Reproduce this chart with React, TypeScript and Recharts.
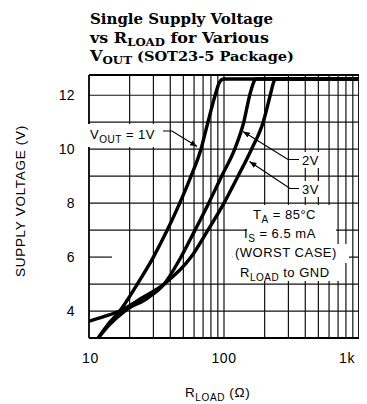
import React from 'react';
import { LineChart, Line, XAxis, YAxis, ReferenceLine } from 'recharts';

// ---- data ----
const X_TICKS = [10, 100, 1000];
const X_TICK_LABELS = ['10', '100', '1k'];
const Y_TICKS = [4, 6, 8, 10, 12];
const X_GRID = [20, 30, 40, 50, 60, 70, 80, 90, 100, 200, 300, 400, 500, 600, 700, 800, 900];
const Y_GRID = [4, 5, 7, 8, 9, 10, 11, 12];
const Y_GRID_6_SEGMENTS = [[10, 14.8], [116, 1000]];
const X_MIN = 10;
const X_MAX = 1000;
const Y_MIN = 3;
const Y_MAX = 12.75;

const R_1V = [11.7, 13.8, 16.9, 22.8, 30, 38, 47, 57, 67.5, 76, 86, 92, 96, 100, 1000];
const V_1V = [3.0, 3.5, 4.0, 5.0, 6.0, 7.0, 8.0, 9.0, 10.0, 11.0, 12.0, 12.45, 12.58, 12.6, 12.6];

const R_2V = [11.7, 14.2, 18.4, 27.5, 36, 48, 61, 77, 96, 120, 140, 155, 165, 171, 1000];
const V_2V = [3.0, 3.5, 4.0, 4.5, 5.0, 6.0, 7.0, 8.0, 9.0, 10.0, 11.0, 12.0, 12.45, 12.6, 12.6];

const R_3V = [10, 13, 16.9, 25, 36, 57, 76, 100, 127, 160, 195, 220, 232, 240, 1000];
const V_3V = [3.62, 3.8, 4.0, 4.5, 5.0, 6.0, 7.0, 8.0, 9.0, 10.0, 11.0, 12.0, 12.45, 12.6, 12.6];

const toPts = (xs: number[], ys: number[]) => xs.map((x, i) => ({ x, y: ys[i] }));
const S1 = toPts(R_1V, V_1V);
const S2 = toPts(R_2V, V_2V);
const S3 = toPts(R_3V, V_3V);

const SANS = '"Liberation Sans", Arial, sans-serif';
const SERIF = '"DejaVu Serif", serif';
const GRID = '#111';

const XTick = (props: any) => {
  const { x, y, payload } = props;
  const idx = X_TICKS.indexOf(payload.value);
  const shift = payload.value === 1000 ? -4 : payload.value === 10 ? 1.5 : 0;
  return (
    <text x={x + shift} y={y} dy="0.71em" textAnchor="middle" fontFamily={SANS} fontSize={14} letterSpacing={0.6} fill="#000">
      {X_TICK_LABELS[idx]}
    </text>
  );
};

export default function App() {
  return (
    <div style={{ position: 'relative', width: 359, height: 396 }}>
      <LineChart width={359} height={396} margin={{ top: 67, right: 8, bottom: 0, left: 0 }}>
        <XAxis
          type="number"
          dataKey="x"
          scale="log"
          domain={[X_MIN, X_MAX]}
          ticks={X_TICKS}
          allowDataOverflow
          tick={XTick}
          tickSize={0}
          tickMargin={15}
          tickLine={false}
          axisLine={{ stroke: '#000', strokeWidth: 1.8 }}
          height={66}
        />
        <YAxis
          type="number"
          domain={[Y_MIN, Y_MAX]}
          ticks={Y_TICKS}
          allowDataOverflow
          tick={{ fontFamily: SANS, fontSize: 14, fill: '#000', letterSpacing: 0.4 }}
          tickSize={0}
          tickMargin={14}
          tickLine={false}
          axisLine={{ stroke: '#000', strokeWidth: 1.8 }}
          width={81}
        />
        {X_GRID.map((v) => (
          <ReferenceLine key={'gx' + v} x={v} stroke={GRID} strokeWidth={1.2} />
        ))}
        {Y_GRID.map((v) => (
          <ReferenceLine key={'gy' + v} y={v} stroke={GRID} strokeWidth={1.2} />
        ))}
        {Y_GRID_6_SEGMENTS.map((s, i) => (
          <ReferenceLine key={'g6' + i} segment={[{ x: s[0], y: 6 }, { x: s[1], y: 6 }]} stroke={GRID} strokeWidth={1.2} />
        ))}
        <ReferenceLine y={Y_MAX} stroke="#000" strokeWidth={1.8} />
        <ReferenceLine x={X_MAX} stroke="#000" strokeWidth={1.8} />
        <Line data={S1} dataKey="y" type="monotone" stroke="#000" strokeWidth={3.4} dot={false} isAnimationActive={false} />
        <Line data={S2} dataKey="y" type="monotone" stroke="#000" strokeWidth={3.4} dot={false} isAnimationActive={false} />
        <Line data={S3} dataKey="y" type="monotone" stroke="#000" strokeWidth={3.4} dot={false} isAnimationActive={false} />
      </LineChart>
      <svg width={359} height={396} style={{ position: 'absolute', left: 0, top: 0, pointerEvents: 'none' }}>
        <defs>
          <marker id="arr" viewBox="0 0 10 8" refX="10" refY="4" markerWidth="7" markerHeight="6" markerUnits="userSpaceOnUse" orient="auto">
            <path d="M0,0 L10,4 L0,8 z" fill="#000" />
          </marker>
        </defs>
        <g transform="translate(-8,-8)">
          {/* Title */}
          <text x={90} y={24} fontFamily={SERIF} fontWeight="bold" fontSize={15} fill="#000" textLength={183} lengthAdjust="spacingAndGlyphs">Single Supply Voltage</text>
          <text x={90} y={43} fontFamily={SERIF} fontWeight="bold" fontSize={15} fill="#000" textLength={179} lengthAdjust="spacingAndGlyphs">
            vs R<tspan fontSize={11} dy={3}>LOAD</tspan><tspan dy={-3}> for Various</tspan>
          </text>
          <text x={90} y={61} fontFamily={SERIF} fontWeight="bold" fontSize={15} fill="#000" textLength={204} lengthAdjust="spacingAndGlyphs">
            V<tspan fontSize={11} dy={3}>OUT</tspan><tspan dy={-3} fontSize={13.5}> (SOT23-5 Package)</tspan>
          </text>

          {/* Axis titles */}
          <text x={20} y={201} transform="rotate(-90 20 201)" textAnchor="middle" dominantBaseline="central" fontFamily={SANS} fontSize={13.5} letterSpacing={0.7} fill="#000">SUPPLY VOLTAGE (V)</text>
          <text x={185} y={397} fontFamily={SANS} fontSize={13.5} letterSpacing={0.6} fill="#000">
            R<tspan fontSize={10} dy={4}>LOAD</tspan><tspan dy={-4}>  (Ω)</tspan>
          </text>

          {/* V_OUT = 1V label */}
          <rect x={86} y={124} width={77} height={23} fill="#fff" />
          <text x={90} y={139} fontFamily={SANS} fontSize={13} letterSpacing={0.5} fill="#000">
            V<tspan fontSize={10} dy={4}>OUT</tspan><tspan dy={-4}> = 1V</tspan>
          </text>
          <polyline points="163,131 172,131 197,146.5" fill="none" stroke="#000" strokeWidth={1.2} markerEnd="url(#arr)" />

          {/* 2V label */}
          <rect x={299} y={152} width={23} height={16} fill="#fff" />
          <text x={302} y={165} fontFamily={SANS} fontSize={13} letterSpacing={0.5} fill="#000">2V</text>
          <polyline points="299,159.5 288,159.5 243,131.5" fill="none" stroke="#000" strokeWidth={1.2} markerEnd="url(#arr)" />

          {/* 3V label */}
          <rect x={299} y={181} width={23} height={16} fill="#fff" />
          <text x={302} y={194} fontFamily={SANS} fontSize={13} letterSpacing={0.5} fill="#000">3V</text>
          <polyline points="299,188.5 290,188.5 249.5,161.5" fill="none" stroke="#000" strokeWidth={1.2} markerEnd="url(#arr)" />

          {/* Conditions block */}
          <rect x={250} y={205} width={83} height={20} fill="#fff" />
          <rect x={247} y={225} width={89} height={19} fill="#fff" />
          <rect x={233} y={244} width={116} height={19} fill="#fff" />
          <rect x={237} y={263} width={108} height={18} fill="#fff" />
          <text x={253} y={219} fontFamily={SANS} fontSize={13} letterSpacing={0.5} fill="#000">
            T<tspan fontSize={10} dy={4}>A</tspan><tspan dy={-4}> = 85°C</tspan>
          </text>
          <text x={244} y={238} fontFamily={SANS} fontSize={13} letterSpacing={0.5} fill="#000">
            I<tspan fontSize={10} dy={4}>S</tspan><tspan dy={-4}> = 6.5 mA</tspan>
          </text>
          <text x={235} y={257} fontFamily={SANS} fontSize={13} letterSpacing={0.5} fill="#000">(WORST CASE)</text>
          <text x={240} y={277} fontFamily={SANS} fontSize={13} letterSpacing={0.5} fill="#000">
            R<tspan fontSize={10} dy={4}>LOAD</tspan><tspan dy={-4}> to GND</tspan>
          </text>
        </g>
      </svg>
    </div>
  );
}
